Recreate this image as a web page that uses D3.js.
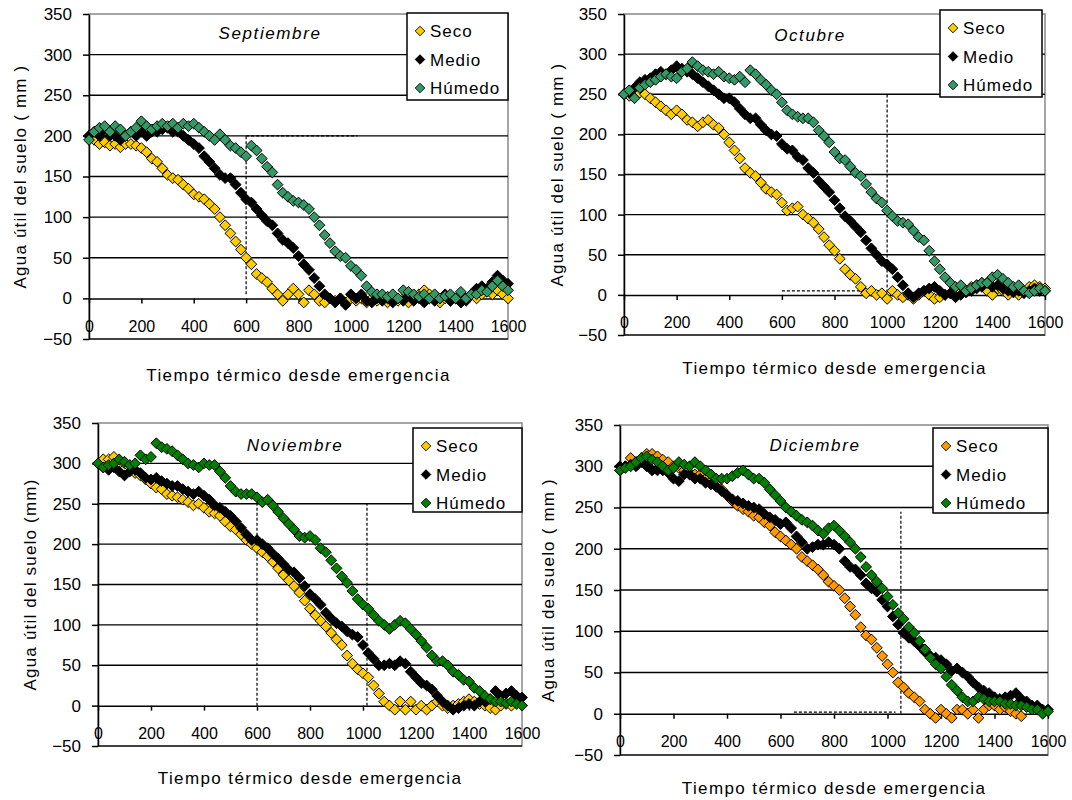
<!DOCTYPE html>
<html>
<head>
<meta charset="utf-8">
<script src="https://cdn.jsdelivr.net/npm/d3@7"></script>
<style>
  body { margin: 0; background: #fff; }
  svg { font-family: "Liberation Sans", Arial, sans-serif; }
</style>
</head>
<body>
<svg id="chart" width="1072" height="800"></svg>
<script>
// tiempo térmico (eje x), un punto cada 20 grados-día
const tt = d3.range(0, 1601, 20);

const months = ["Septiembre", "Octubre", "Noviembre", "Diciembre"];
const seriesNames = ["Seco", "Medio", "Húmedo"];
const yTicks = [-50, 0, 50, 100, 150, 200, 250, 300, 350];
const xTicks = [0, 200, 400, 600, 800, 1000, 1200, 1400, 1600];

// Septiembre
const sepSeco = [200,195,190,192,188,190,186,190,190,188,
  185,180,172,168,160,152,148,146,140,135,
  128,125,122,116,110,100,90,80,70,60,
  50,42,30,25,20,12,5,-3,5,12,
  5,-5,10,5,-3,-5,0,-3,0,-5,
  0,-3,0,-5,0,-3,0,-5,0,-3,
  0,-5,0,5,10,5,0,-5,0,-3,
  0,-5,0,5,0,5,10,5,10,5,
  0];
const sepMedio = [200,205,200,208,200,200,195,200,205,200,
  205,200,205,205,208,210,205,205,200,195,
  190,185,175,168,160,152,148,148,140,130,
  122,118,110,102,95,90,80,72,68,62,
  52,42,35,25,15,5,0,-5,0,-8,
  5,0,5,-3,-5,0,-3,0,-5,0,
  -3,5,-3,0,-5,0,-3,0,5,-3,
  0,-5,-3,5,12,15,12,20,28,22,
  18];
const sepHumedo = [195,205,210,212,205,212,208,200,205,210,
  218,212,208,212,215,212,215,210,215,212,
  215,210,205,200,195,202,195,188,185,180,
  175,188,182,172,162,155,140,130,125,120,
  118,115,110,100,90,78,68,58,52,50,
  40,35,28,15,8,5,5,2,5,0,
  10,8,5,2,5,0,5,0,3,5,
  0,8,0,5,5,10,8,15,22,15,
  10];

// Octubre
const octSeco = [250,248,248,252,250,245,240,235,230,225,
  230,225,218,215,210,215,218,212,208,200,
  190,180,170,158,152,148,140,132,128,125,
  115,105,108,110,100,95,90,82,72,62,
  55,45,32,25,20,10,2,5,0,2,
  -5,5,0,-3,0,-5,0,5,0,-5,
  -3,0,2,0,5,5,10,12,15,5,
  0,8,5,0,5,0,5,10,12,10,
  8];
const octMedio = [250,252,258,265,268,270,275,278,275,280,
  285,282,278,275,270,265,260,255,250,245,
  245,240,232,225,220,220,212,205,200,198,
  188,182,180,172,168,158,152,142,135,128,
  118,108,98,92,85,78,68,58,50,42,
  38,32,22,12,2,-3,2,5,8,10,
  5,0,2,-3,0,3,5,8,10,15,
  10,12,8,5,3,5,2,5,8,5,
  5];
const octHumedo = [250,255,245,258,262,265,268,272,275,272,
  270,278,282,290,285,280,278,275,278,272,
  270,268,272,265,280,275,268,262,255,250,
  240,230,225,222,220,220,215,205,198,190,
  178,170,168,160,152,148,138,128,120,115,
  105,98,92,90,88,80,72,68,55,42,
  32,22,15,10,12,5,8,12,15,15,
  22,25,20,15,10,12,5,2,5,8,
  5];

// Noviembre
const novSeco = [300,305,305,308,300,300,295,288,285,280,
  275,270,268,262,260,258,255,252,248,250,
  245,240,238,235,228,222,218,212,205,200,
  195,190,185,178,170,162,155,148,140,130,
  120,112,105,98,90,82,75,62,52,45,
  40,35,25,15,5,0,-5,5,-5,5,
  -5,0,-5,0,5,0,-3,0,2,5,
  8,5,2,0,-3,-5,0,2,0,3,
  0];
const novMedio = [300,295,292,295,290,285,290,292,288,282,
  280,282,278,275,272,272,268,265,262,265,
  260,255,248,245,240,235,228,220,212,205,
  205,200,195,188,182,175,168,165,158,148,
  138,132,125,115,108,102,98,92,88,85,
  75,65,58,50,50,52,50,55,52,42,
  35,28,25,20,12,5,0,-5,-3,0,
  2,0,5,5,8,18,12,15,18,12,
  10];
const novHumedo = [300,295,298,300,305,302,298,300,310,305,
  308,325,320,318,315,310,305,300,298,295,
  300,298,298,290,282,272,265,262,262,262,
  258,252,255,248,240,232,225,218,210,208,
  210,205,195,190,180,170,160,152,142,132,
  125,120,112,105,100,95,100,105,102,95,
  88,80,72,62,55,55,50,42,38,32,
  30,22,18,12,8,5,5,3,5,2,
  0];

// Diciembre
const dicSeco = [295,300,310,305,310,315,315,312,308,305,
  300,298,295,292,290,290,285,282,278,272,
  265,258,252,248,245,240,238,232,228,220,
  215,210,205,200,190,185,180,175,168,160,
  155,150,140,130,120,105,95,90,80,70,
  60,50,38,32,25,20,15,5,0,-5,
  5,0,-5,5,5,0,5,-5,5,10,
  10,5,8,3,0,-3,null,null,null,null,
  null];
const dicMedio = [300,300,302,300,305,300,295,295,295,292,
  285,282,290,290,285,285,280,278,275,270,
  265,260,258,255,252,250,248,242,238,235,
  230,232,225,215,208,200,202,205,205,208,
  205,200,185,178,175,168,158,152,148,138,
  130,118,108,98,92,88,82,75,70,68,
  65,60,52,55,50,45,38,32,28,25,
  20,18,20,22,25,18,15,10,10,5,
  5];
const dicHumedo = [295,298,300,305,310,312,308,305,300,295,
  298,305,302,300,305,300,295,290,285,285,
  285,288,292,295,290,285,285,280,272,265,
  258,250,245,240,235,232,228,222,218,225,
  228,222,215,208,200,190,178,168,160,152,
  142,132,122,115,105,98,88,78,68,60,
  55,45,35,28,20,15,15,20,18,15,
  15,15,12,12,10,10,8,5,5,0,
  3];

// líneas de referencia punteadas [x1, y1, x2, y2]
const sepGuides = [[600, 5, 600, 200], [600, 200, 1025, 200]];
const octGuides = [[1000, 3, 1000, 250], [600, 5, 1000, 5]];
const novGuides = [[600, 0, 600, 250], [1015, 0, 1015, 250]];
const dicGuides = [[1050, 0, 1050, 245], [650, 2, 1030, 2]];

const panelData = [
  { series: [sepSeco, sepMedio, sepHumedo], guides: sepGuides, colors: ["#FFCC00", "#000000", "#339966"], ylab: "Agua útil del suelo ( mm )" },
  { series: [octSeco, octMedio, octHumedo], guides: octGuides, colors: ["#FFCC00", "#000000", "#339966"], ylab: "Agua útil del suelo ( mm )" },
  { series: [novSeco, novMedio, novHumedo], guides: novGuides, colors: ["#FFCC00", "#000000", "#008000"], ylab: "Agua útil del suelo (mm)" },
  { series: [dicSeco, dicMedio, dicHumedo], guides: dicGuides, colors: ["#FF9900", "#000000", "#008000"], ylab: "Agua útil del suelo ( mm )" }
];

// posición de cada gráfico en la página
const layout = [
  { left: 89,  right: 508,  top: 14,  bottom: 339, lx: 407, ly: 13,  lw: 101, lh: 87, tx: 270, ty: 33,  yt: 20,  xt: 375 },
  { left: 624, right: 1045, top: 14,  bottom: 335, lx: 940, ly: 10,  lw: 102, lh: 87, tx: 810, ty: 35,  yt: 557, xt: 368 },
  { left: 98,  right: 522,  top: 423, bottom: 746, lx: 413, ly: 428, lw: 109, lh: 84, tx: 295, ty: 445, yt: 30,  xt: 778 },
  { left: 620, right: 1048, top: 425, bottom: 755, lx: 933, ly: 428, lw: 115, lh: 85, tx: 815, ty: 445, yt: 548, xt: 788 }
];

const svg = d3.select("#chart");

function diamond(r) {
  return "M0," + (-r) + "L" + r + ",0L0," + r + "L" + (-r) + ",0Z";
}

panelData.forEach(function(p, i) {
  const L = layout[i];
  const g = svg.append("g");

  const x = d3.scaleLinear().domain([0, 1600]).range([L.left, L.right]);
  const y = d3.scaleLinear().domain([-50, 350]).range([L.bottom, L.top]);

  // borde del área de trazado
  g.append("rect")
    .attr("x", L.left).attr("y", L.top)
    .attr("width", L.right - L.left).attr("height", L.bottom - L.top)
    .attr("fill", "#fff").attr("stroke", "#888").attr("stroke-width", 1.5);

  // líneas de división
  g.selectAll(".grid")
    .data(yTicks.filter(function(v) { return v > 0 && v < 350; }))
    .enter().append("line")
    .attr("x1", L.left).attr("x2", L.right)
    .attr("y1", function(d) { return y(d); }).attr("y2", function(d) { return y(d); })
    .attr("stroke", "#000").attr("stroke-width", 1.4);

  // borde inferior
  g.append("line")
    .attr("x1", L.left).attr("x2", L.right)
    .attr("y1", y(-50)).attr("y2", y(-50))
    .attr("stroke", "#222").attr("stroke-width", 1.5);

  // eje x en 0
  const xAxis = g.append("g")
    .attr("transform", "translate(0," + y(0) + ")")
    .call(d3.axisBottom(x).tickValues(xTicks).tickSize(5).tickSizeOuter(0).tickPadding(17).tickFormat(d3.format("d")));
  xAxis.select(".domain").attr("stroke", "#000").attr("stroke-width", 1.5);
  xAxis.selectAll(".tick line").attr("stroke", "#000").attr("stroke-width", 1.5);
  xAxis.selectAll("text").attr("font-size", 16).attr("fill", "#000")
    .attr("font-family", "'Liberation Sans', Arial, sans-serif");

  // eje y
  const yAxis = g.append("g")
    .attr("transform", "translate(" + L.left + ",0)")
    .call(d3.axisLeft(y).tickValues(yTicks).tickSize(6).tickSizeOuter(0).tickPadding(11));
  yAxis.select(".domain").attr("stroke", "#000").attr("stroke-width", 1.5);
  yAxis.selectAll(".tick line").attr("stroke", "#000").attr("stroke-width", 1.5);
  yAxis.selectAll("text").attr("font-size", 17).attr("fill", "#000")
    .attr("font-family", "'Liberation Sans', Arial, sans-serif");

  // líneas punteadas
  g.selectAll(".guide")
    .data(p.guides)
    .enter().append("line")
    .attr("x1", function(d) { return x(d[0]); }).attr("y1", function(d) { return y(d[1]); })
    .attr("x2", function(d) { return x(d[2]); }).attr("y2", function(d) { return y(d[3]); })
    .attr("stroke", "#000").attr("stroke-width", 1.2).attr("stroke-dasharray", "3,2");

  // puntos de cada serie
  p.series.forEach(function(vals, s) {
    const pts = vals.map(function(v, k) { return [tt[k], v]; })
      .filter(function(d) { return d[1] !== null; });
    g.append("g").selectAll("path")
      .data(pts)
      .enter().append("path")
      .attr("d", diamond(5.4))
      .attr("transform", function(d) { return "translate(" + x(d[0]) + "," + y(d[1]) + ")"; })
      .attr("fill", p.colors[s])
      .attr("stroke", "#000").attr("stroke-width", 1);
  });

  // título del mes
  g.append("text")
    .attr("x", L.tx).attr("y", L.ty + 6)
    .attr("text-anchor", "middle")
    .attr("font-size", 17).attr("font-style", "italic")
    .style("letter-spacing", "1.6px")
    .text(months[i]);

  // leyenda
  const leg = g.append("g");
  leg.append("rect")
    .attr("x", L.lx).attr("y", L.ly).attr("width", L.lw).attr("height", L.lh)
    .attr("fill", "#fff").attr("stroke", "#000").attr("stroke-width", 1.5);
  seriesNames.forEach(function(name, s) {
    const cy = L.ly + 18 + s * 28.5;
    leg.append("path")
      .attr("d", diamond(4.8))
      .attr("transform", "translate(" + (L.lx + 13) + "," + cy + ")")
      .attr("fill", p.colors[s]).attr("stroke", "#000").attr("stroke-width", 0.9);
    leg.append("text")
      .attr("x", L.lx + 23).attr("y", cy + 6)
      .attr("font-size", 17)
      .style("letter-spacing", "1px")
      .text(name);
  });

  // títulos de ejes
  g.append("text")
    .attr("x", (L.left + L.right) / 2).attr("y", L.xt + 6)
    .attr("text-anchor", "middle")
    .attr("font-size", 17)
    .style("letter-spacing", "1.4px")
    .text("Tiempo térmico desde emergencia");

  g.append("text")
    .attr("transform", "translate(" + L.yt + "," + ((L.top + L.bottom) / 2) + ") rotate(-90)")
    .attr("y", 6)
    .attr("text-anchor", "middle")
    .attr("font-size", 17)
    .style("letter-spacing", "1.2px")
    .text(p.ylab);
});
</script>
</body>
</html>
